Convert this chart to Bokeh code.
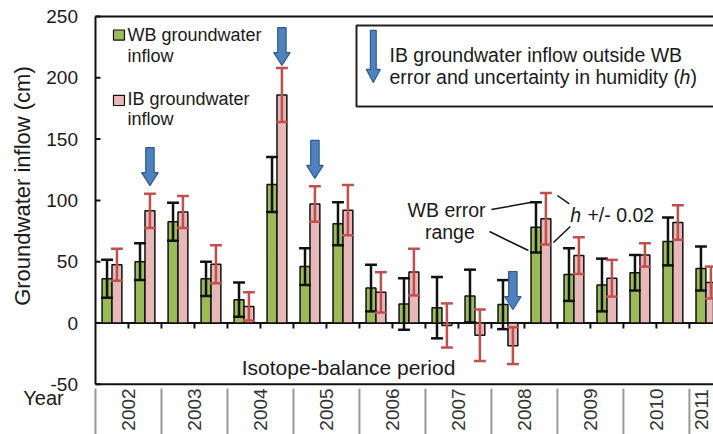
import math
from bokeh.plotting import figure
from bokeh.models import Range1d, Label, ColumnDataSource
from bokeh.core.properties import value
from bokeh.embed import file_html
from bokeh.resources import INLINE

# ---------------- data ----------------
periods = ["2002a", "2002b", "2003a", "2003b", "2004a", "2004b", "2005a", "2005b",
           "2006a", "2006b", "2007a", "2007b", "2008a", "2008b", "2009a", "2009b",
           "2010a", "2010b", "2011a"]
years = ["2002", "2003", "2004", "2005", "2006", "2007", "2008", "2009", "2010", "2011"]
wb = [36, 50, 82.5, 36, 19, 113, 46, 81, 28.5, 15.5, 12.5, 22, 15, 78, 39.5, 31, 41, 66.5, 44.5]
wb_err = [15.5, 15, 15.5, 14, 14, 22.5, 15, 17.5, 19, 21, 25, 21.5, 20, 20.5, 21.5, 21.5, 14.5, 19.5, 18]
ib = [47.5, 91.5, 90.5, 48, 13.5, 186, 97, 92, 25, 41.5, -2, -10, -18.5, 85, 55, 36.5, 55.5, 82, 33]
ib_err = [13, 14, 13, 15.5, 11.5, 22, 14.5, 20.5, 16.5, 19, 18, 21, 15, 21, 15, 15, 9.5, 14, 13]
arrow_periods = [1, 5, 6, 12]
arrow_tips = [112, 210, 118, 11]
y_ticks = [-50, 0, 50, 100, 150, 200, 250]
y_tick_labels = ["-50", "0", "50", "100", "150", "200", "250"]

FONT = "Liberation Sans"
GREEN = "#9bbb59"
PINK = "#e6b9b8"
RED = "#c0504d"
BLUE = "#4f81bd"
BLUE_EDGE = "#2c5a92"
INK = "#111111"

PXX = 33.0          # px per x unit
PXY = 1.226         # px per y unit
X_START, X_END = -95 / PXX, 18.73
Y_END = 250 + 16 / PXY
Y_START = Y_END - 434 / PXY

p = figure(width=713, height=434, x_range=Range1d(X_START, X_END), y_range=Range1d(Y_START, Y_END),
           output_backend="svg", toolbar_location=None, x_axis_location=None, y_axis_location=None,
           min_border_left=0, min_border_right=0, min_border_top=0, min_border_bottom=0)
p.outline_line_color = None
p.xgrid.visible = False
p.ygrid.visible = False
p.background_fill_color = "white"

n = len(periods)
xc = [i + 0.5 for i in range(n)]
xg = [x - 0.15 for x in xc]
xp = [x + 0.15 for x in xc]

# ---- value axis (drawn on the data scale) ----
p.segment(x0=[0], x1=[0], y0=[min(y_ticks)], y1=[max(y_ticks)], line_color=INK, line_width=2)
p.segment(x0=[0] * len(y_ticks), x1=[5 / PXX] * len(y_ticks), y0=y_ticks, y1=y_ticks,
          line_color=INK, line_width=2)
p.text(x=[-17.5 / PXX] * len(y_ticks), y=y_ticks, text=y_tick_labels, text_align="right",
       text_baseline="middle", text_font=value(FONT), text_font_size="19px", text_color="#1a1a1a")

# frame lines (top, bottom) and zero line
for loc in (250, -50, 0):
    p.segment(x0=[0], x1=[X_END + 1], y0=[loc], y1=[loc], line_color=INK, line_width=2)

# x ticks on zero line
tick_x = list(range(1, n))
p.segment(x0=tick_x, x1=tick_x, y0=[0] * len(tick_x), y1=[-4.5] * len(tick_x),
          line_color=INK, line_width=2)

# bars
p.vbar(x=xg, top=wb, bottom=0, width=0.3, fill_color=GREEN, line_color=INK, line_width=1.5)
p.vbar(x=xp, top=ib, bottom=0, width=0.3, fill_color=PINK, line_color=INK, line_width=1.5)

# error bars
def errbars(xs, vals, errs, color):
    lo = [v - e for v, e in zip(vals, errs)]
    hi = [v + e for v, e in zip(vals, errs)]
    cap = 0.18
    p.segment(x0=xs, x1=xs, y0=lo, y1=hi, line_color=color, line_width=2.5)
    p.segment(x0=[x - cap for x in xs], x1=[x + cap for x in xs], y0=lo, y1=lo, line_color=color, line_width=2.5)
    p.segment(x0=[x - cap for x in xs], x1=[x + cap for x in xs], y0=hi, y1=hi, line_color=color, line_width=2.5)

errbars(xg, wb, wb_err, INK)
errbars(xp, ib, ib_err, RED)

# blue arrows
def arrow(cx, tip, length_px=38, shaft_px=4.2, head_px=8.3, head_h_px=13):
    sx, hx = shaft_px / PXX, head_px / PXX
    hh, L = head_h_px / PXY, length_px / PXY
    xs = [cx - sx, cx + sx, cx + sx, cx + hx, cx, cx - hx, cx - sx]
    ys = [tip + L, tip + L, tip + hh, tip + hh, tip, tip + hh, tip + hh]
    return xs, ys

axs, ays = [], []
for i, t in zip(arrow_periods, arrow_tips):
    a, b = arrow(xp[i], t)
    axs.append(a)
    ays.append(b)

# info box (top right)
p.quad(left=[7.91], right=[19.5], top=[242.7], bottom=[176.6], fill_color="white",
       line_color="#222222", line_width=2)
a, b = arrow(8.42, 196.2, length_px=52, shaft_px=2.9, head_px=7, head_h_px=13)
axs.append(a)
ays.append(b)
p.patches(xs=axs, ys=ays, fill_color=BLUE, line_color=BLUE_EDGE, line_width=1.2)

def lab(x, y, text, size="19.5px", align="left", style="normal", angle=0, color="#1a1a1a"):
    p.add_layout(Label(x=x, y=y, text=text, text_font=FONT,
                       text_font_size=size, text_align=align, text_baseline="middle",
                       text_font_style=style, angle=angle, text_color=color))

lab(8.91, 218.4, "IB groundwater inflow outside WB")
lab(8.91, 200.6, "error and uncertainty in humidity (")
lab(17.70, 200.6, "h", style="italic")
lab(18.03, 200.6, ")")

# legend
p.rect(x=[0.712, 0.712], y=[234.9, 181.5], width=0.333, height=8.2,
       fill_color=[GREEN, PINK], line_color=INK, line_width=1.2)
lab(0.97, 234.9, "WB groundwater", size="18px")
lab(0.97, 218.0, "inflow", size="18px")
lab(0.97, 183.0, "IB groundwater", size="18px")
lab(0.97, 166.0, "inflow", size="18px")

# annotations
lab(10.64, 92.3, "WB error", align="center")
lab(10.74, 74.6, "range", align="center")
lab(14.39, 88.3, "h", style="italic")
lab(14.91, 88.3, "+/- 0.02")
p.segment(x0=[12.0, 11.94, 14.0, 14.39], y0=[92.6, 74.6, 104.0, 78.7],
          x1=[13.18, 13.12, 14.36, 13.88], y1=[98.3, 59.1, 97.2, 65.7],
          line_color=INK, line_width=1.5)

lab(7.67, -36, "Isotope-balance period", size="21px", align="center")

# y axis title and Year label
lab(-2.21, 111.7, "Groundwater inflow (cm)", size="22px", align="center", angle=math.pi / 2)
lab(-1.576, -60.8, "Year", size="20px", align="center")

# year table
sep_x = list(range(0, n, 2))
p.segment(x0=sep_x, x1=sep_x, y0=[-53.5] * len(sep_x), y1=[Y_START] * len(sep_x),
          line_color="#999999", line_width=2)
year_x = [(2 * k + min(2 * k + 2, X_END)) / 2 for k in range(len(years))]
src = ColumnDataSource(dict(x=year_x, y=[-70.6] * len(years), t=years))
p.text(x="x", y="y", text="t", source=src, angle=math.pi / 2, text_align="center",
       text_baseline="middle", text_font=value(FONT), text_font_size="19px", text_color="#333333")

open("out.html", "w").write(file_html(p, INLINE))
